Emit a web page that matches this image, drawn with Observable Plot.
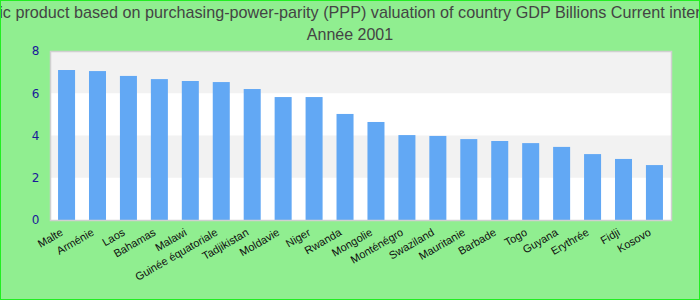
<!DOCTYPE html>
<html>
<head>
<meta charset="utf-8">
<script src="https://cdn.jsdelivr.net/npm/d3@7"></script>
<script src="https://cdn.jsdelivr.net/npm/@observablehq/plot@0.6"></script>
<style>
  html, body { margin: 0; padding: 0; }
  body { width: 700px; height: 300px; overflow: hidden; background: #90ee90; position: relative; }
  #title { position: absolute; left: 50%; top: 1px; transform: translateX(-50%); white-space: nowrap;
    font-family: "Liberation Sans", Arial, sans-serif; font-size: 16.2px; color: #444; line-height: 22px; }
  #subtitle { position: absolute; left: 0; width: 700px; top: 24px; text-align: center;
    font-family: "Liberation Sans", Arial, sans-serif; font-size: 16px; color: #444; line-height: 22px; }
  #chart { position: absolute; left: 0; top: 46px; width: 700px; }
  #chart svg { max-width: none; }
  #border { position: absolute; left: 0; top: 0; width: 698px; height: 298px; border: 1px solid #22ee22; pointer-events: none; }
</style>
</head>
<body>
<div id="title">Gross domestic product based on purchasing-power-parity (PPP) valuation of country GDP Billions Current international dollar</div>
<div id="subtitle">Année 2001</div>
<div id="chart"></div>
<div id="border"></div>
<script>
const countries = ["Malte","Arménie","Laos","Bahamas","Malawi","Guinée équatoriale","Tadjikistan","Moldavie","Niger","Rwanda","Mongolie","Monténégro","Swaziland","Mauritanie","Barbade","Togo","Guyana","Erythrée","Fidji","Kosovo"];
const values = [7.10,7.05,6.82,6.67,6.58,6.53,6.20,5.82,5.82,5.02,4.64,4.02,3.98,3.83,3.74,3.64,3.46,3.12,2.89,2.60];
const yTicks = [0,2,4,6,8];
const bandLow = [2, 6];
const bandHigh = [4, 8];

const data = countries.map((c,i) => ({country: c, value: values[i]}));
const bands = bandLow.map((d,i) => ({y1: d, y2: bandHigh[i]}));

const chart = Plot.plot({
  width: 700,
  height: 254,
  marginLeft: 50,
  marginRight: 29,
  marginTop: 5,
  marginBottom: 80,
  style: {background: "transparent", overflow: "visible"},
  x: {domain: countries, paddingInner: 0.45, paddingOuter: 0.26, round: false, label: null},
  y: {domain: [0, 8], label: null},
  marks: [
    Plot.frame({fill: "white", stroke: null}),
    Plot.rectY(bands, {y1: "y1", y2: "y2", fill: "#f2f2f2"}),
    Plot.barY(data, {x: "country", y: "value", fill: "#62a8f4"}),
    Plot.frame({stroke: "#d0d0d0", strokeWidth: 1.5}),
    Plot.axisY({ticks: yTicks, tickSize: 0, tickPadding: 11, fill: "#1a1a99", fontSize: 12, fontFamily: "DejaVu Sans, Verdana, sans-serif", label: null}),
    Plot.axisX({tickSize: 0, tickPadding: 11, tickRotate: -30, dx: -5, fill: "#111", fontSize: 11, fontFamily: "Liberation Sans, Arial, sans-serif", label: null})
  ]
});
document.getElementById("chart").appendChild(chart);
</script>
</body>
</html>
